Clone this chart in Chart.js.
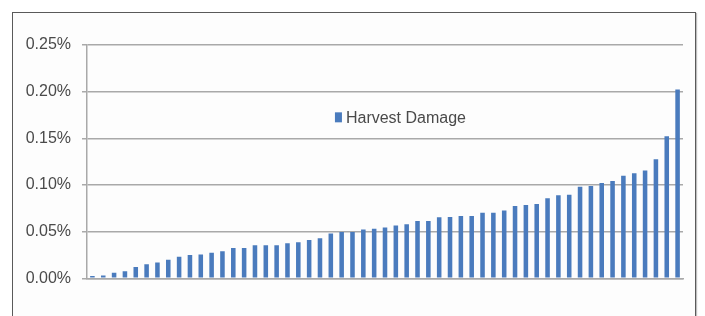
<!DOCTYPE html>
<html>
<head>
<meta charset="utf-8">
<script src="https://cdn.jsdelivr.net/npm/chart.js@4/dist/chart.umd.min.js"></script>
<style>
  html, body { margin: 0; padding: 0; background: #ffffff; }
  #wrap { position: relative; width: 705px; height: 316px; overflow: hidden; }
  #frame { position: absolute; left: 12px; top: 12px; width: 684px; height: 330px;
           border: 1.5px solid #5a5a5a; background: #fdfdfd; box-sizing: border-box;
           box-shadow: 1px 1px 1px rgba(0,0,0,0.25); }
  #c { position: absolute; left: 0; top: 0; }
</style>
</head>
<body>
<div id="wrap">
  <div id="frame"></div>
  <canvas id="c" width="705" height="316"></canvas>
</div>
<script>
// ---- data (values in percent) ----
const seriesLabel = "Harvest Damage";
const categories = Array.from({length: 55}, (_, i) => String(i + 1));
const harvestDamage = [
  0.0025, 0.003, 0.006, 0.0075, 0.012, 0.015, 0.017, 0.020, 0.023, 0.025,
  0.0255, 0.0275, 0.029, 0.0325, 0.0325, 0.0355, 0.0355, 0.0355, 0.0375, 0.0386,
  0.041, 0.043, 0.048, 0.0497, 0.0497, 0.0522, 0.053, 0.0545, 0.0566, 0.058,
  0.0615, 0.0615, 0.0654, 0.0657, 0.0668, 0.0668, 0.0703, 0.0703, 0.0727, 0.0775,
  0.0786, 0.0795, 0.0857, 0.089, 0.0895, 0.098, 0.099, 0.102, 0.1043, 0.110,
  0.1125, 0.1155, 0.1277, 0.1522, 0.2022
];
const yTicks = [0, 0.05, 0.10, 0.15, 0.20, 0.25];

const barColor = '#4a7bbd';
const gridColor = '#a9a9a9';
const textColor = '#4a4a4a';
const fontFamily = '"Liberation Sans", Arial, sans-serif';

const legendInArea = {
  id: 'legendInArea',
  afterDraw(chart) {
    const ctx = chart.ctx;
    const a = chart.chartArea;
    const ds = chart.data.datasets[0];
    const x = a.left + (a.right - a.left) * 0.416;
    const y = a.top + (a.bottom - a.top) * 0.31;
    ctx.save();
    ctx.fillStyle = ds.backgroundColor;
    ctx.fillRect(x, y - 5, 7, 10);
    ctx.fillStyle = textColor;
    ctx.font = '16px ' + fontFamily;
    ctx.textBaseline = 'middle';
    ctx.textAlign = 'left';
    ctx.fillText(ds.label, x + 11, y + 1);
    ctx.restore();
  }
};

new Chart(document.getElementById('c'), {
  type: 'bar',
  data: {
    labels: categories,
    datasets: [{
      label: seriesLabel,
      data: harvestDamage,
      backgroundColor: barColor,
      borderWidth: 0,
      categoryPercentage: 1.0,
      barPercentage: 0.42
    }]
  },
  options: {
    responsive: false,
    animation: false,
    devicePixelRatio: 1,
    layout: { padding: { left: 0, right: 22, top: 45, bottom: 0 } },
    plugins: { legend: { display: false }, tooltip: { enabled: false }, title: { display: false } },
    scales: {
      x: {
        grid: { display: false },
        border: { display: true, color: gridColor, width: 1.5 },
        ticks: { display: false },
        afterFit(scale) { scale.height = 37.7; }
      },
      y: {
        min: 0, max: 0.25,
        afterBuildTicks(scale) { scale.ticks = yTicks.map(v => ({ value: v })); },
        ticks: {
          padding: 11,
          color: textColor,
          font: { family: fontFamily, size: 16 },
          callback: v => Number(v).toFixed(2) + '%'
        },
        grid: { color: gridColor, lineWidth: 1.5, tickLength: 5, drawTicks: true },
        border: { display: true, color: gridColor, width: 1.5 },
        afterFit(scale) { scale.width = 87; }
      }
    }
  },
  plugins: [legendInArea]
});
</script>
</body>
</html>
